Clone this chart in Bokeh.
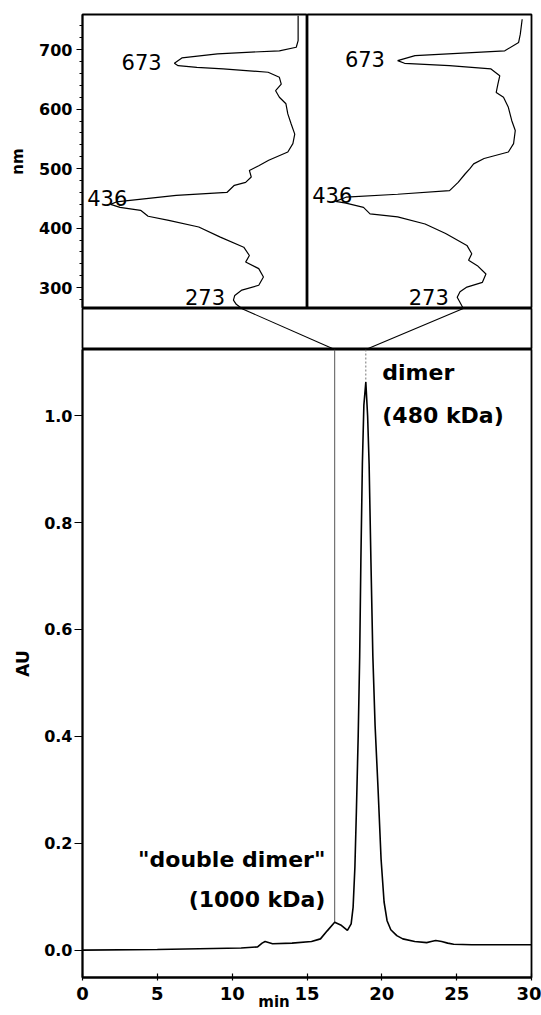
import numpy as np
from bokeh.plotting import figure
from bokeh.layouts import column, row
from bokeh.models import Range1d, FixedTicker, NumeralTickFormatter, LinearAxis
from bokeh.core.properties import value
from bokeh.embed import file_html
from bokeh.resources import INLINE

# ---------------- data ----------------
# absorption spectra (relative absorbance vs wavelength, nm)
spec_left_nm = [757, 715, 704, 698, 693, 686, 677, 673, 670, 667.5, 662, 653.5, 642, 631, 620, 609,
                592, 575, 558, 542, 528, 514, 505, 497, 486, 477, 472, 460, 455, 444, 440, 435, 430,
                420, 413, 402, 385, 368, 354, 343, 332, 318, 304, 296, 287, 279, 272, 265]
spec_left_abs = [0.0, 0.0, 0.01, 0.10, 0.43, 0.62, 0.66, 0.64, 0.54, 0.40, 0.16, 0.10, 0.09, 0.12, 0.10, 0.065,
                 0.055, 0.037, 0.018, 0.028, 0.055, 0.157, 0.21, 0.26, 0.25, 0.28, 0.34, 0.38, 0.65, 0.97, 1.0, 0.95, 0.84,
                 0.80, 0.69, 0.53, 0.415, 0.29, 0.26, 0.28, 0.21, 0.185, 0.21, 0.30, 0.338, 0.345, 0.33, 0.30]

spec_right_nm = [751, 726, 712, 698, 690, 681.5, 677, 673, 667.5, 656, 642, 628, 620, 603, 581, 564,
                 542, 528, 517, 508, 500, 491, 477, 463, 457, 452, 445, 442, 435, 424, 419, 407, 391,
                 371, 357, 346, 337, 323, 309, 301, 293, 284, 270, 265]
spec_right_abs = [0.0, 0.01, 0.019, 0.093, 0.574, 0.667, 0.63, 0.39, 0.167, 0.12, 0.13, 0.139, 0.10, 0.074, 0.056, 0.037,
                  0.046, 0.074, 0.204, 0.26, 0.28, 0.306, 0.343, 0.389, 0.667, 0.944, 1.0, 0.944, 0.85, 0.815, 0.667, 0.52, 0.41,
                  0.296, 0.27, 0.287, 0.24, 0.194, 0.213, 0.296, 0.333, 0.348, 0.324, 0.315]

# chromatogram
chrom_min = [0, 5, 10.6, 11.7, 12.0, 12.2, 12.7, 14.0, 15.3, 15.9, 16.35, 16.85, 17.25, 17.7, 17.95,
             18.08, 18.2, 18.3, 18.42, 18.52, 18.6, 18.7, 18.8, 18.93, 19.05, 19.15, 19.27, 19.4, 19.55,
             19.75, 19.95, 20.15, 20.35, 20.6, 21.0, 21.4, 22.2, 23.0, 23.3, 23.6, 24.0, 24.4, 24.8, 26, 30]
chrom_au = [0.0, 0.001, 0.004, 0.006, 0.013, 0.016, 0.012, 0.013, 0.016, 0.021, 0.036, 0.052, 0.047, 0.037, 0.049,
            0.080, 0.155, 0.26, 0.40, 0.55, 0.73, 0.91, 1.02, 1.063, 1.0, 0.91, 0.73, 0.55, 0.42,
            0.30, 0.17, 0.09, 0.055, 0.038, 0.027, 0.021, 0.016, 0.014, 0.016, 0.018, 0.016, 0.013, 0.011, 0.010, 0.010]

nm_ticks = [300, 400, 500, 600, 700]
nm_minor = list(range(260, 761, 20))
au_ticks = [0.0, 0.2, 0.4, 0.6, 0.8, 1.0]
min_ticks = [0, 5, 10, 15, 20, 25, 30]
x_title = "min"
x_title_pos = 12.8

peak_labels = ["673", "436", "273"]
dd_text = ['"double dimer"', "(1000 kDa)"]
d_text = ["dimer", "(480 kDa)"]

FONT = "DejaVu Sans"
F = value(FONT)

# ---------------- ranges ----------------
A_START, A_END = 1.15, -0.05
NM_LO, NM_HI = 265, 759
xr_min = Range1d(0, 30)

t = np.array(chrom_min)
a = np.array(chrom_au)
i_d = int(np.argmax(a))
win = np.where((t > 16) & (t < 17.5))[0]
i_dd = int(win[np.argmax(a[win])])
t_dimer, a_dimer = t[i_d], a[i_d]
t_dd, a_dd = t[i_dd], a[i_dd]

BL = 82   # left border
BR = 10   # right border


def base(fig):
    fig.xgrid.visible = False
    fig.ygrid.visible = False
    fig.outline_line_color = "black"
    fig.outline_line_width = 1.8
    fig.background_fill_color = "white"
    fig.border_fill_color = "white"


def spectrum_panel(nm, ab, left_axis, width, mb_left, mb_right):
    p = figure(width=width, height=308, x_range=Range1d(A_START, A_END), y_range=Range1d(NM_LO, NM_HI),
               output_backend="svg", toolbar_location=None, x_axis_location=None,
               y_axis_location="left" if left_axis else None,
               min_border_left=mb_left, min_border_right=mb_right, min_border_top=14, min_border_bottom=0)
    base(p)
    p.line(ab, nm, line_color="black", line_width=1.2)
    ab = np.array(ab)
    nm = np.array(nm)
    i436 = int(np.argmax(ab))
    m673 = nm > 600
    i673 = int(np.where(m673)[0][np.argmax(ab[m673])])
    m273 = nm < 300
    i273 = int(np.where(m273)[0][np.argmax(ab[m273])])
    p.text(x=[ab[i673] + 0.068], y=[nm[i673] + 3], text=[peak_labels[0]], text_font=F, text_font_size="21px",
           text_align="right", text_baseline="middle", text_color="black")
    p.text(x=[A_START - 0.025], y=[nm[i436] + 11], text=[peak_labels[1]], text_font=F, text_font_size="21px",
           text_align="left", text_baseline="alphabetic", text_color="black")
    p.text(x=[ab[i273] + 0.045], y=[NM_LO + 19], text=[peak_labels[2]], text_font=F, text_font_size="21px",
           text_align="right", text_baseline="middle", text_color="black")
    if left_axis:
        ax = p.yaxis[0]
        ax.ticker = FixedTicker(ticks=nm_ticks, minor_ticks=nm_minor)
        ax.axis_label = "nm"
        ax.axis_label_text_font = FONT
        ax.axis_label_text_font_size = "15px"
        ax.axis_label_text_font_style = "bold"
        ax.axis_label_text_color = "black"
        ax.axis_label_standoff = 9
        ax.major_label_text_font = FONT
        ax.major_label_text_font_size = "16px"
        ax.major_label_text_font_style = "bold"
        ax.major_label_text_color = "black"
        ax.major_label_standoff = 4
        ax.major_tick_out = 6
        ax.major_tick_in = 0
        ax.minor_tick_out = 3
        ax.minor_tick_in = 0
        ax.axis_line_width = 1.8
        ax.major_tick_line_width = 1.2
    return p, ab[-1]


p_l, a_end_l = spectrum_panel(spec_left_nm, spec_left_abs, True, BL + 225, BL, 0)
p_r, a_end_r = spectrum_panel(spec_right_nm, spec_right_abs, False, 224 + BR, 0, BR)

W = BL + 449 + BR

# ---------------- connecting band ----------------
p_m = figure(width=W, height=41, x_range=xr_min, y_range=Range1d(0, 1), output_backend="svg",
             toolbar_location=None, x_axis_location=None, y_axis_location=None,
             min_border_left=BL, min_border_right=BR, min_border_top=0, min_border_bottom=0)
base(p_m)
half = 15.0
x_top_l = half * (A_START - a_end_l) / (A_START - A_END)
x_top_r = half + half * (A_START - a_end_r) / (A_START - A_END)
p_m.segment(x0=[x_top_l, x_top_r], y0=[1, 1], x1=[t_dd, t_dimer], y1=[0, 0], line_color="black", line_width=1.1)

# ---------------- chromatogram ----------------
Y_LO, Y_HI = -0.0513, 1.124
p_b = figure(width=W, height=666, x_range=xr_min, y_range=Range1d(Y_LO, Y_HI), output_backend="svg",
             toolbar_location=None, min_border_left=BL, min_border_right=BR, min_border_top=0,
             min_border_bottom=38)
base(p_b)
p_b.segment(x0=[t_dd], y0=[Y_HI], x1=[t_dd], y1=[a_dd], line_color="#555555", line_width=1.0)
p_b.segment(x0=[t_dimer], y0=[Y_HI], x1=[t_dimer], y1=[a_dimer], line_color="#777777", line_width=1.0,
            line_dash="2 2")
p_b.line(chrom_min, chrom_au, line_color="black", line_width=1.6)

p_b.text(x=[t_dd - 0.62] * 2, y=[0.169, 0.094], text=dd_text, text_font=F, text_font_size="22px",
         text_font_style="bold", text_align="right", text_baseline="middle", text_color="black")
p_b.text(x=[t_dimer + 1.1] * 2, y=[1.081, 1.0], text=d_text, text_font=F, text_font_size="22px",
         text_font_style="bold", text_align="left", text_baseline="middle", text_color="black")

xa = p_b.xaxis[0]
xa.ticker = FixedTicker(ticks=min_ticks)
xa.major_label_text_font = FONT
xa.major_label_text_font_size = "18px"
xa.major_label_text_font_style = "bold"
xa.major_label_text_color = "black"
xa.major_label_standoff = 6
xa.major_tick_out = 3
xa.major_tick_in = 4
xa.minor_tick_line_color = None
xa.axis_line_width = 1.8
xa.major_tick_line_width = 1.2

# second (label-only) axis carrying the "min" title at its off-centre position
xt = LinearAxis(ticker=FixedTicker(ticks=[x_title_pos]), major_label_overrides={x_title_pos: x_title},
                axis_line_color=None, major_tick_line_color=None, minor_tick_line_color=None,
                major_tick_out=0, major_tick_in=0, major_label_standoff=-10,
                major_label_text_font=FONT, major_label_text_font_size="15px",
                major_label_text_font_style="bold", major_label_text_color="black")
p_b.add_layout(xt, "below")

ya = p_b.yaxis[0]
ya.ticker = FixedTicker(ticks=au_ticks)
ya.formatter = NumeralTickFormatter(format="0.0")
ya.axis_label = "AU"
ya.axis_label_text_font = FONT
ya.axis_label_text_font_size = "17px"
ya.axis_label_text_font_style = "bold"
ya.axis_label_text_color = "black"
ya.axis_label_standoff = 8
ya.major_label_text_font = FONT
ya.major_label_text_font_size = "16px"
ya.major_label_text_font_style = "bold"
ya.major_label_text_color = "black"
ya.major_label_standoff = 2
ya.major_tick_out = 8
ya.major_tick_in = 0
ya.minor_tick_line_color = None
ya.axis_line_width = 1.8
ya.major_tick_line_width = 1.2

layout = column(row(p_l, p_r, spacing=0), p_m, p_b, spacing=0)
open("out.html", "w").write(file_html(layout, INLINE))
